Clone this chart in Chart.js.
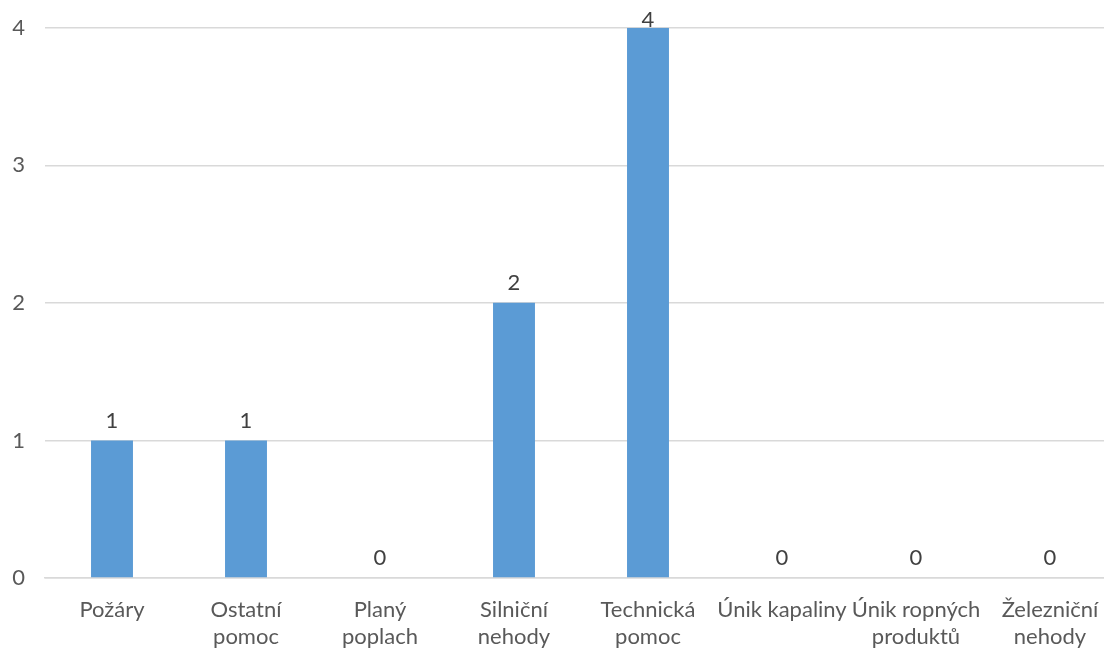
<!DOCTYPE html>
<html>
<head>
<meta charset="utf-8">
<script src="https://cdn.jsdelivr.net/npm/chart.js@4/dist/chart.umd.min.js"></script>
<style>
  html, body { margin: 0; padding: 0; background: #fff; overflow: hidden; }
  #wrap { position: relative; width: 1120px; height: 650px; }
</style>
</head>
<body>
<div id="wrap"><canvas id="c"></canvas></div>
<script>
// Počty zásahů podle typu události
const categories = [
  'Požáry',
  ['Ostatní', 'pomoc'],
  ['Planý', 'poplach'],
  ['Silniční', 'nehody'],
  ['Technická', 'pomoc'],
  'Únik kapaliny',
  ['Únik ropných', 'produktů'],
  ['Železniční', 'nehody']
];
const counts = [1, 1, 0, 2, 4, 0, 0, 0];
const yTicks = [0, 1, 2, 3, 4];

const FONT = 'Lato, "Open Sans", sans-serif';
const TEXT = '#595959';

// Popisky hodnot nad sloupci
const valueLabels = {
  id: 'valueLabels',
  afterDatasetsDraw(chart) {
    const { ctx } = chart;
    const meta = chart.getDatasetMeta(0);
    ctx.save();
    ctx.font = '22px ' + FONT;
    ctx.fillStyle = '#404040';
    ctx.textAlign = 'center';
    ctx.textBaseline = 'middle';
    meta.data.forEach((bar, i) => {
      const y = Math.max(bar.y - 20, 20);
      ctx.fillText(String(counts[i]), bar.x, y);
    });
    ctx.restore();
  }
};

new Chart(document.getElementById('c'), {
  type: 'bar',
  data: {
    labels: categories,
    datasets: [{
      data: counts,
      backgroundColor: '#5B9BD5',
      borderWidth: 0,
      barPercentage: 0.313,
      categoryPercentage: 1.0
    }]
  },
  options: {
    responsive: true,
    maintainAspectRatio: false,
    animation: false,
    layout: { padding: { top: 20, right: 3, left: 0, bottom: 0 } },
    plugins: { legend: { display: false }, tooltip: { enabled: false } },
    scales: {
      x: {
        grid: { display: false, drawTicks: false },
        border: { display: true, color: '#d9d9d9', width: 1.5 },
        ticks: {
          color: TEXT,
          font: { family: FONT, size: 22, lineHeight: 1.23 },
          padding: 18,
          maxRotation: 0,
          autoSkip: false
        },
        afterFit(scale) { scale.height = 72; }
      },
      y: {
        min: 0,
        max: 4,
        afterBuildTicks(scale) { scale.ticks = yTicks.map(v => ({ value: v })); },
        grid: { color: '#d9d9d9', lineWidth: 1.5, drawTicks: false },
        border: { display: false },
        ticks: {
          color: TEXT,
          font: { family: FONT, size: 22, lineHeight: 0.7 },
          padding: 20
        },
        afterFit(scale) { scale.width = 45; }
      }
    }
  },
  plugins: [valueLabels]
});
</script>
</body>
</html>
